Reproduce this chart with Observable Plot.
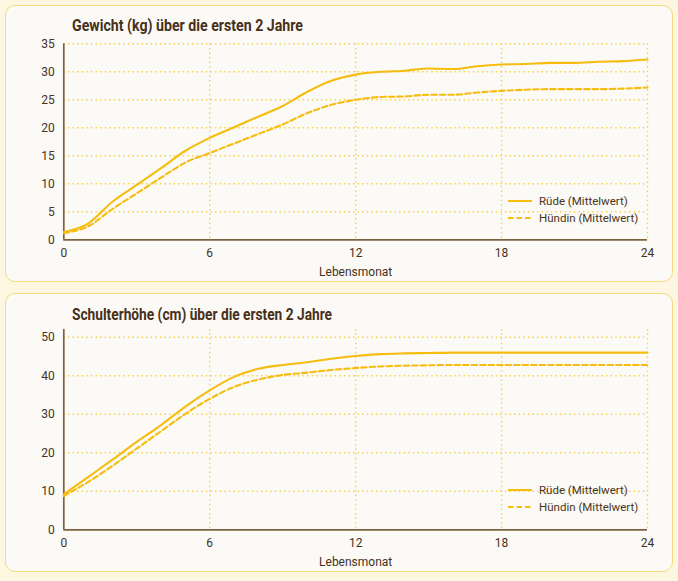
<!DOCTYPE html>
<html>
<head>
<meta charset="utf-8">
<script src="https://cdn.jsdelivr.net/npm/d3@7"></script>
<script src="https://cdn.jsdelivr.net/npm/@observablehq/plot@0.6"></script>
<style>
  html, body { margin: 0; padding: 0; }
  body { width: 678px; height: 581px; background: #fdf6e1; position: relative; overflow: hidden; font-family: Roboto, "Liberation Sans", sans-serif; }
  .card { position: absolute; left: 5px; width: 668px; box-sizing: border-box; border: 1.5px solid #f7d97e; border-radius: 10px; background: #fbfaf6; }
  .title { position: absolute; left: 72px; font: bold 16px/16px Roboto, sans-serif; color: #47301a; white-space: nowrap; transform-origin: left center; }
  .chart { position: absolute; left: 5px; }
  .legend { position: absolute; left: 508px; font: 11.5px/14px Roboto, sans-serif; color: #4a3520; }
  .legend .row { display: flex; align-items: center; height: 17px; }
  .legend svg { margin-right: 7px; }
</style>
</head>
<body>
<div class="card" style="top:5px;height:277px"></div>
<div class="card" style="top:293px;height:279px"></div>
<div id="t1" class="title" style="top:18px">Gewicht (kg) über die ersten 2 Jahre</div>
<div id="t2" class="title" style="top:307px">Schulterhöhe (cm) über die ersten 2 Jahre</div>
<div id="c1" class="chart" style="top:5px"></div>
<div id="c2" class="chart" style="top:293px"></div>
<div id="l1" class="legend" style="top:192px"></div>
<div id="l2" class="legend" style="top:481px"></div>
<script>
// ---- data ----
const months = [0,1,2,3,4,5,6,7,8,9,10,11,12,13,14,15,16,17,18,19,20,21,22,23,24];
const weightRuede  = [1.4,2.9,6.8,9.8,12.8,15.9,18.2,20.1,22.0,23.9,26.4,28.4,29.5,30.0,30.2,30.6,30.5,31.0,31.3,31.4,31.6,31.6,31.8,31.9,32.2];
const weightHuendin = [1.2,2.4,5.5,8.3,11.1,13.8,15.5,17.2,18.9,20.6,22.6,24.1,25.0,25.5,25.6,25.9,25.9,26.3,26.6,26.8,26.9,26.9,26.9,27.0,27.2];
const heightRuede  = [9.2,13.7,18.2,22.8,27.2,32.0,36.2,39.7,41.8,42.8,43.5,44.4,45.1,45.6,45.8,45.9,46.0,46.0,46.0,46.0,46.0,46.0,46.0,46.0,46.0];
const heightHuendin = [8.8,12.4,16.6,21.1,25.6,30.1,34.0,37.1,39.0,40.2,40.8,41.5,42.0,42.4,42.6,42.7,42.8,42.8,42.8,42.8,42.8,42.8,42.8,42.8,42.8];
const xTicks = [0,6,12,18,24];
const weightTicks = [0,5,10,15,20,25,30,35];
const heightTicks = [0,10,20,30,40,50];
const seriesNames = ["Rüde (Mittelwert)", "Hündin (Mittelwert)"];
const xLabel = "Lebensmonat";

// ---- styles ----
const lineColor = "#f6bd10";
const gridColor = "#f8cf40";
const axisColor = "#7d6240";
const textColor = "#45311d";
const dashPattern = "5.5,3";

function rows(vals) { return months.map((m, i) => ({m, v: vals[i]})); }

function chart(ruede, huendin, yDomain, yTicks, height, marginTop, marginBottom) {
  return Plot.plot({
    width: 668, height,
    marginLeft: 58.3, marginRight: 26, marginTop, marginBottom,
    style: {background: "transparent", fontFamily: "Roboto, sans-serif", fontSize: "12px", color: textColor, overflow: "visible"},
    x: {domain: [0, 24], ticks: xTicks, tickSize: 0, tickPadding: 8.5, label: xLabel, labelAnchor: "center", labelOffset: 36, labelArrow: "none"},
    y: {domain: yDomain, ticks: yTicks, tickSize: 0, tickPadding: 9, label: null},
    marks: [
      Plot.gridY(yTicks.filter(d => d > 0), {stroke: gridColor, strokeOpacity: 1, strokeWidth: 1.4, strokeDasharray: "1.4,3.2"}),
      Plot.gridX(xTicks.filter(d => d > 0), {stroke: gridColor, strokeOpacity: 1, strokeWidth: 1.4, strokeDasharray: "1.4,3.2"}),
      Plot.ruleX([0], {stroke: axisColor, strokeWidth: 1.7}),
      Plot.ruleY([0], {stroke: axisColor, strokeWidth: 1.7}),
      Plot.line(rows(huendin), {x: "m", y: "v", stroke: lineColor, strokeWidth: 2.1, strokeDasharray: dashPattern, curve: "monotone-x"}),
      Plot.line(rows(ruede), {x: "m", y: "v", stroke: lineColor, strokeWidth: 2.1, curve: "monotone-x"})
    ]
  });
}

document.getElementById("c1").append(chart(weightRuede, weightHuendin, [0, 35], weightTicks, 277, 38.3, 42.7));
document.getElementById("c2").append(chart(heightRuede, heightHuendin, [0, 52], heightTicks, 279, 36, 42.7));

function legend(el) {
  const dashes = [null, dashPattern];
  seriesNames.forEach((name, i) => {
    const row = document.createElement("div");
    row.className = "row";
    row.innerHTML = `<svg width="24" height="4"><line x1="0" x2="24" y1="2" y2="2" stroke="${lineColor}" stroke-width="2" ${dashes[i] ? `stroke-dasharray="${dashes[i]}"` : ""}/></svg><span>${name}</span>`;
    el.append(row);
  });
}
legend(document.getElementById("l1"));
legend(document.getElementById("l2"));

// condense titles to the reference's narrow bold face
const t1 = document.getElementById("t1"), t2 = document.getElementById("t2");
t1.style.transform = `scaleX(${231 / t1.getBoundingClientRect().width})`;
t2.style.transform = `scaleX(${260 / t2.getBoundingClientRect().width})`;
</script>
</body>
</html>
